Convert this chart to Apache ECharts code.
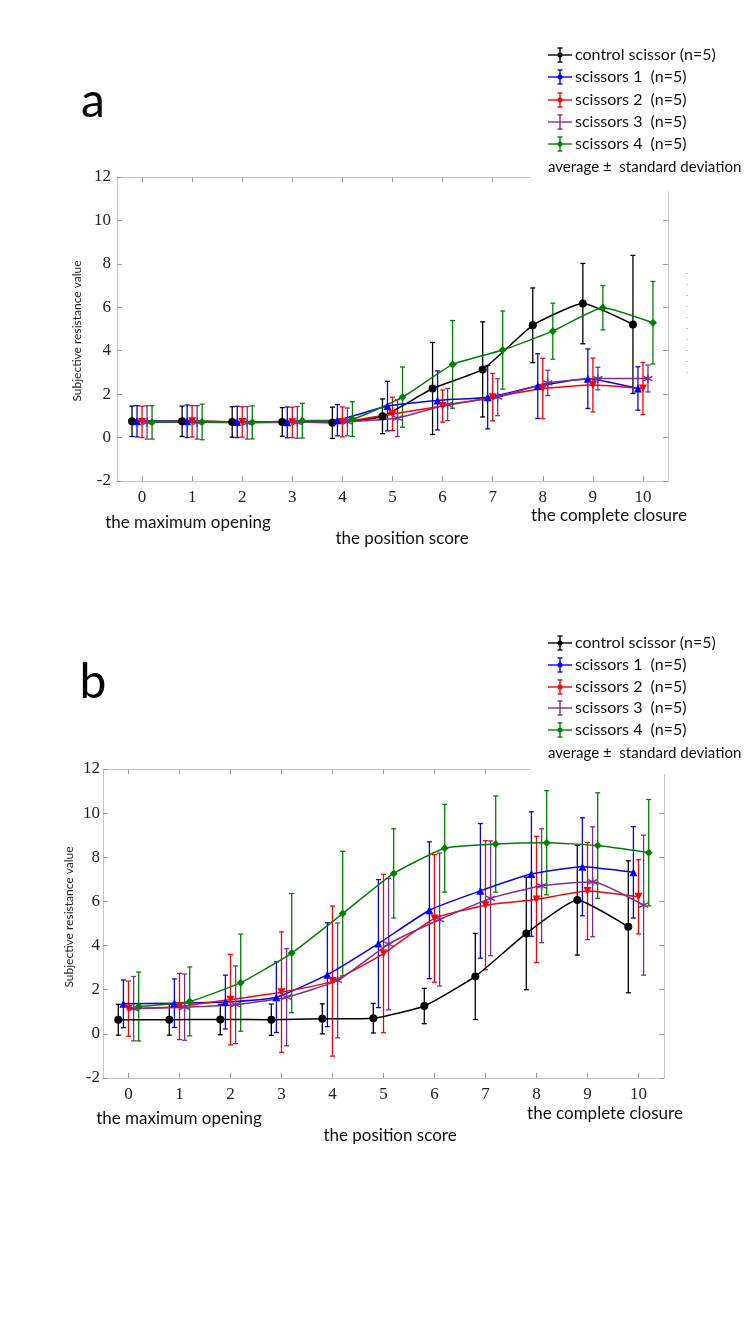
<!DOCTYPE html>
<html>
<head>
<meta charset="utf-8">
<script src="https://cdn.jsdelivr.net/npm/echarts/dist/echarts.min.js"></script>
<style>
html,body{margin:0;padding:0;background:#fff;}
#chart{width:750px;height:1334px;}
</style>
</head>
<body>
<div id="chart"></div>
<script>
// ---------- data ----------
const positions = [0, 1, 2, 3, 4, 5, 6, 7, 8, 9, 10];
const xTickLabels = ['0', '1', '2', '3', '4', '5', '6', '7', '8', '9', '10'];
const seriesNames = ['control scissor (n=5)', 'scissors 1  (n=5)', 'scissors 2  (n=5)', 'scissors 3  (n=5)', 'scissors 4  (n=5)'];
const seriesOffsets = [-0.2, -0.1, 0, 0.1, 0.2];
const noteText = 'average \u00b1  standard deviation';
const yAxisTitle = 'Subjective resistance value';
const captionLeft = 'the maximum opening';
const captionMid = 'the position score';
const captionRight = 'the complete closure';

// panel a : means and standard deviations
const aControlMean = [0.75, 0.75, 0.72, 0.72, 0.68, 0.98, 2.26, 3.14, 5.17, 6.17, 5.21];
const aControlSD   = [0.70, 0.70, 0.70, 0.66, 0.72, 0.80, 2.12, 2.19, 1.72, 1.85, 3.18];
const aS1Mean = [0.75, 0.75, 0.72, 0.70, 0.80, 1.45, 1.71, 1.86, 2.37, 2.71, 2.26];
const aS1SD   = [0.72, 0.75, 0.72, 0.71, 0.72, 1.14, 1.36, 1.46, 1.49, 1.37, 1.00];
const aS2Mean = [0.72, 0.75, 0.72, 0.70, 0.72, 1.09, 1.45, 1.86, 2.26, 2.42, 2.26];
const aS2SD   = [0.72, 0.72, 0.70, 0.70, 0.69, 0.77, 0.74, 1.09, 1.39, 1.24, 1.20];
const aS3Mean = [0.70, 0.70, 0.68, 0.70, 0.72, 0.90, 1.52, 1.86, 2.52, 2.72, 2.72];
const aS3SD   = [0.77, 0.77, 0.75, 0.73, 0.64, 0.85, 0.74, 0.85, 0.58, 0.52, 0.62];
const aS4Mean = [0.70, 0.72, 0.70, 0.78, 0.85, 1.86, 3.37, 4.03, 4.90, 5.98, 5.29];
const aS4SD   = [0.77, 0.82, 0.76, 0.80, 0.80, 1.39, 2.02, 1.80, 1.29, 1.02, 1.90];

// panel b : means and standard deviations
const bControlMean = [0.64, 0.64, 0.65, 0.64, 0.68, 0.71, 1.26, 2.60, 4.55, 6.06, 4.85];
const bControlSD   = [0.70, 0.70, 0.69, 0.71, 0.68, 0.67, 0.80, 1.95, 2.55, 2.49, 2.99];
const bS1Mean = [1.36, 1.39, 1.44, 1.66, 2.68, 4.09, 5.60, 6.48, 7.24, 7.57, 7.32];
const bS1SD   = [1.08, 1.10, 1.22, 1.60, 2.35, 2.90, 3.10, 3.05, 2.82, 2.22, 2.07];
const bS2Mean = [1.14, 1.24, 1.55, 1.89, 2.39, 3.64, 5.23, 5.83, 6.09, 6.47, 6.21];
const bS2SD   = [1.25, 1.50, 2.05, 2.73, 3.40, 3.59, 2.89, 2.92, 2.86, 2.20, 1.68];
const bS3Mean = [1.14, 1.21, 1.32, 1.66, 2.42, 4.07, 5.18, 6.14, 6.71, 6.89, 5.83];
const bS3SD   = [1.46, 1.50, 1.76, 2.20, 2.60, 2.98, 3.01, 2.60, 2.58, 2.49, 3.17];
const bS4Mean = [1.24, 1.47, 2.32, 3.66, 5.45, 7.27, 8.41, 8.60, 8.66, 8.53, 8.21];
const bS4SD   = [1.56, 1.56, 2.20, 2.70, 2.82, 2.02, 1.99, 2.18, 2.36, 2.39, 2.41];

// ---------- styles ----------
const colors = ['#000000', '#0000ff', '#ff0000', '#7e2f8e', '#008000'];
const asterisk = 'path://M5,0L5,10M0.67,2.5L9.33,7.5M9.33,2.5L0.67,7.5';
const symbols = ['circle', 'triangle', 'triangle', asterisk, 'diamond'];
const symbolRot = [0, 0, 180, 0, 0];
const symbolSizes = [8, 8, 8, 9, 8];

const panels = [
  { grid: 0, means: [aControlMean, aS1Mean, aS2Mean, aS3Mean, aS4Mean], sds: [aControlSD, aS1SD, aS2SD, aS3SD, aS4SD] },
  { grid: 1, means: [bControlMean, bS1Mean, bS2Mean, bS3Mean, bS4Mean], sds: [bControlSD, bS1SD, bS2SD, bS3SD, bS4SD] }
];

const axisGray = '#c4c4c4';
const tickGray = '#9a9a9a';
const serif = 'Liberation Serif';
const sans = 'Lato';

function xAxes(gi) {
  const base = {
    gridIndex: gi, type: 'value', min: -0.5, max: 10.5,
    axisLine: { show: true, onZero: false, lineStyle: { color: axisGray, width: 1 } },
    axisTick: { show: true, inside: true, length: 5, customValues: positions, lineStyle: { color: tickGray } },
    splitLine: { show: false }
  };
  return [
    Object.assign({}, base, {
      position: 'bottom',
      axisLabel: { show: true, customValues: positions, formatter: v => xTickLabels[positions.indexOf(v)],
        fontFamily: serif, fontSize: 17, color: '#222', margin: 8 }
    }),
    Object.assign({}, base, { position: 'top', axisLabel: { show: false } })
  ];
}
function yAxes(gi, margin) {
  const base = {
    gridIndex: gi, type: 'value', min: -2, max: 12, interval: 2,
    axisLine: { show: true, onZero: false, lineStyle: { color: axisGray, width: 1 } },
    axisTick: { show: true, inside: true, length: 5, lineStyle: { color: tickGray } },
    splitLine: { show: false }
  };
  return [
    Object.assign({}, base, { position: 'left',
      axisLabel: { show: true, fontFamily: serif, fontSize: 17, color: '#222', margin: margin } }),
    Object.assign({}, base, { position: 'right', axisLabel: { show: false } })
  ];
}

const series = [];
panels.forEach(p => {
  const xi = p.grid * 2, yi = p.grid * 2;
  for (let i = 0; i < 5; i++) {
    const off = seriesOffsets[i];
    const col = colors[i];
    series.push({
      type: 'custom', xAxisIndex: xi, yAxisIndex: yi, silent: true, z: 3,
      encode: { x: 0, y: 1 },
      data: positions.map((x, j) => [x + off, p.means[i][j], p.sds[i][j]]),
      renderItem: (params, api) => {
        const x = api.value(0), m = api.value(1), s = api.value(2);
        const t = api.coord([x, m + s]);
        const b = api.coord([x, m - s]);
        const cw = 2.5;
        const st = { stroke: col, lineWidth: 1.3, fill: null };
        return { type: 'group', children: [
          { type: 'line', shape: { x1: t[0], y1: t[1], x2: b[0], y2: b[1] }, style: st },
          { type: 'line', shape: { x1: t[0] - cw, y1: t[1], x2: t[0] + cw, y2: t[1] }, style: st },
          { type: 'line', shape: { x1: b[0] - cw, y1: b[1], x2: b[0] + cw, y2: b[1] }, style: st }
        ] };
      }
    });
    series.push({
      type: 'line', name: seriesNames[i], xAxisIndex: xi, yAxisIndex: yi, z: 4,
      data: positions.map((x, j) => [x + off, p.means[i][j]]),
      smooth: 0.15,
      symbol: symbols[i], symbolSize: symbolSizes[i], symbolRotate: symbolRot[i], showSymbol: true,
      lineStyle: { color: col, width: 1.5 },
      itemStyle: i === 3 ? { color: 'rgba(0,0,0,0)', borderColor: col, borderWidth: 1.4 } : { color: col, borderWidth: 0 },
      emphasis: { disabled: true }
    });
  }
});

// ---------- graphics (legends, captions, letters) ----------
const graphics = [];
function addLegend(rowYs, noteY) {
  for (let i = 0; i < 5; i++) {
    const y = rowYs[i];
    const c = colors[i];
    const st = { stroke: c, lineWidth: 1.4 };
    graphics.push({ type: 'line', z: 110, shape: { x1: 548, y1: y, x2: 572, y2: y }, style: st });
    graphics.push({ type: 'line', z: 110, shape: { x1: 560, y1: y - 7, x2: 560, y2: y + 7 }, style: st });
    graphics.push({ type: 'line', z: 110, shape: { x1: 557.5, y1: y - 7, x2: 562.5, y2: y - 7 }, style: st });
    graphics.push({ type: 'line', z: 110, shape: { x1: 557.5, y1: y + 7, x2: 562.5, y2: y + 7 }, style: st });
    if (i !== 3) graphics.push({ type: 'circle', z: 111, shape: { cx: 560, cy: y, r: 2.5 }, style: { fill: c } });
    graphics.push({ type: 'text', z: 111, x: 575, y: y, style: { text: seriesNames[i], font: '16px ' + sans, fill: '#111', textAlign: 'left', textVerticalAlign: 'middle' } });
  }
  graphics.push({ type: 'text', z: 111, x: 548, y: noteY, style: { text: noteText, font: '15px ' + sans, fill: '#111', textAlign: 'left', textVerticalAlign: 'middle' } });
}
addLegend([55, 77, 100, 122, 144], 167);
addLegend([643, 665, 687, 708, 730], 753);

// white masks over the top-right corner of each frame (legend area)
graphics.push({ type: 'rect', z: 100, shape: { x: 530, y: 160, width: 170, height: 31 }, style: { fill: '#fff' } });
graphics.push({ type: 'rect', z: 100, shape: { x: 530, y: 760, width: 170, height: 14 }, style: { fill: '#fff' } });

// panel letters
graphics.push({ type: 'text', z: 111, x: 93, y: 102, style: { text: 'a', font: '48px ' + sans, fill: '#000', textAlign: 'center', textVerticalAlign: 'middle' } });
graphics.push({ type: 'text', z: 111, x: 93, y: 683, style: { text: 'b', font: '48px ' + sans, fill: '#000', textAlign: 'center', textVerticalAlign: 'middle' } });

// y-axis titles
graphics.push({ type: 'text', z: 111, x: 77, y: 331, rotation: Math.PI / 2, style: { text: yAxisTitle, font: '12px ' + sans, fill: '#222', textAlign: 'center', textVerticalAlign: 'middle' } });
graphics.push({ type: 'text', z: 111, x: 69, y: 917, rotation: Math.PI / 2, style: { text: yAxisTitle, font: '12px ' + sans, fill: '#222', textAlign: 'center', textVerticalAlign: 'middle' } });

// captions under the x axes
function addCaptions(leftX, leftY, midX, midY, rightX, rightY) {
  graphics.push({ type: 'text', z: 111, x: leftX, y: leftY, style: { text: captionLeft, font: '17px ' + sans, fill: '#111', textAlign: 'center', textVerticalAlign: 'middle' } });
  graphics.push({ type: 'text', z: 111, x: midX, y: midY, style: { text: captionMid, font: '17px ' + sans, fill: '#111', textAlign: 'center', textVerticalAlign: 'middle' } });
  graphics.push({ type: 'text', z: 111, x: rightX, y: rightY, style: { text: captionRight, font: '17px ' + sans, fill: '#111', textAlign: 'center', textVerticalAlign: 'middle' } });
}
addCaptions(188, 523, 402, 539, 609, 516);
addCaptions(179, 1119, 390, 1136, 605, 1114);

// faint dotted marks right of panel a
graphics.push({ type: 'line', z: 1, shape: { x1: 687, y1: 273, x2: 687, y2: 377 }, style: { stroke: '#888', lineWidth: 1, lineDash: [1, 10] } });

const option = {
  animation: false,
  backgroundColor: '#ffffff',
  grid: [
    { left: 117, top: 177, width: 551, height: 304, containLabel: false },
    { left: 103, top: 769, width: 561, height: 309, containLabel: false }
  ],
  xAxis: [].concat(xAxes(0), xAxes(1)),
  yAxis: [].concat(yAxes(0, 6), yAxes(1, 3)),
  series: series,
  graphic: graphics
};

const chart = echarts.init(document.getElementById('chart'), null, { renderer: 'canvas', width: 750, height: 1334 });
chart.setOption(option);
</script>
</body>
</html>
